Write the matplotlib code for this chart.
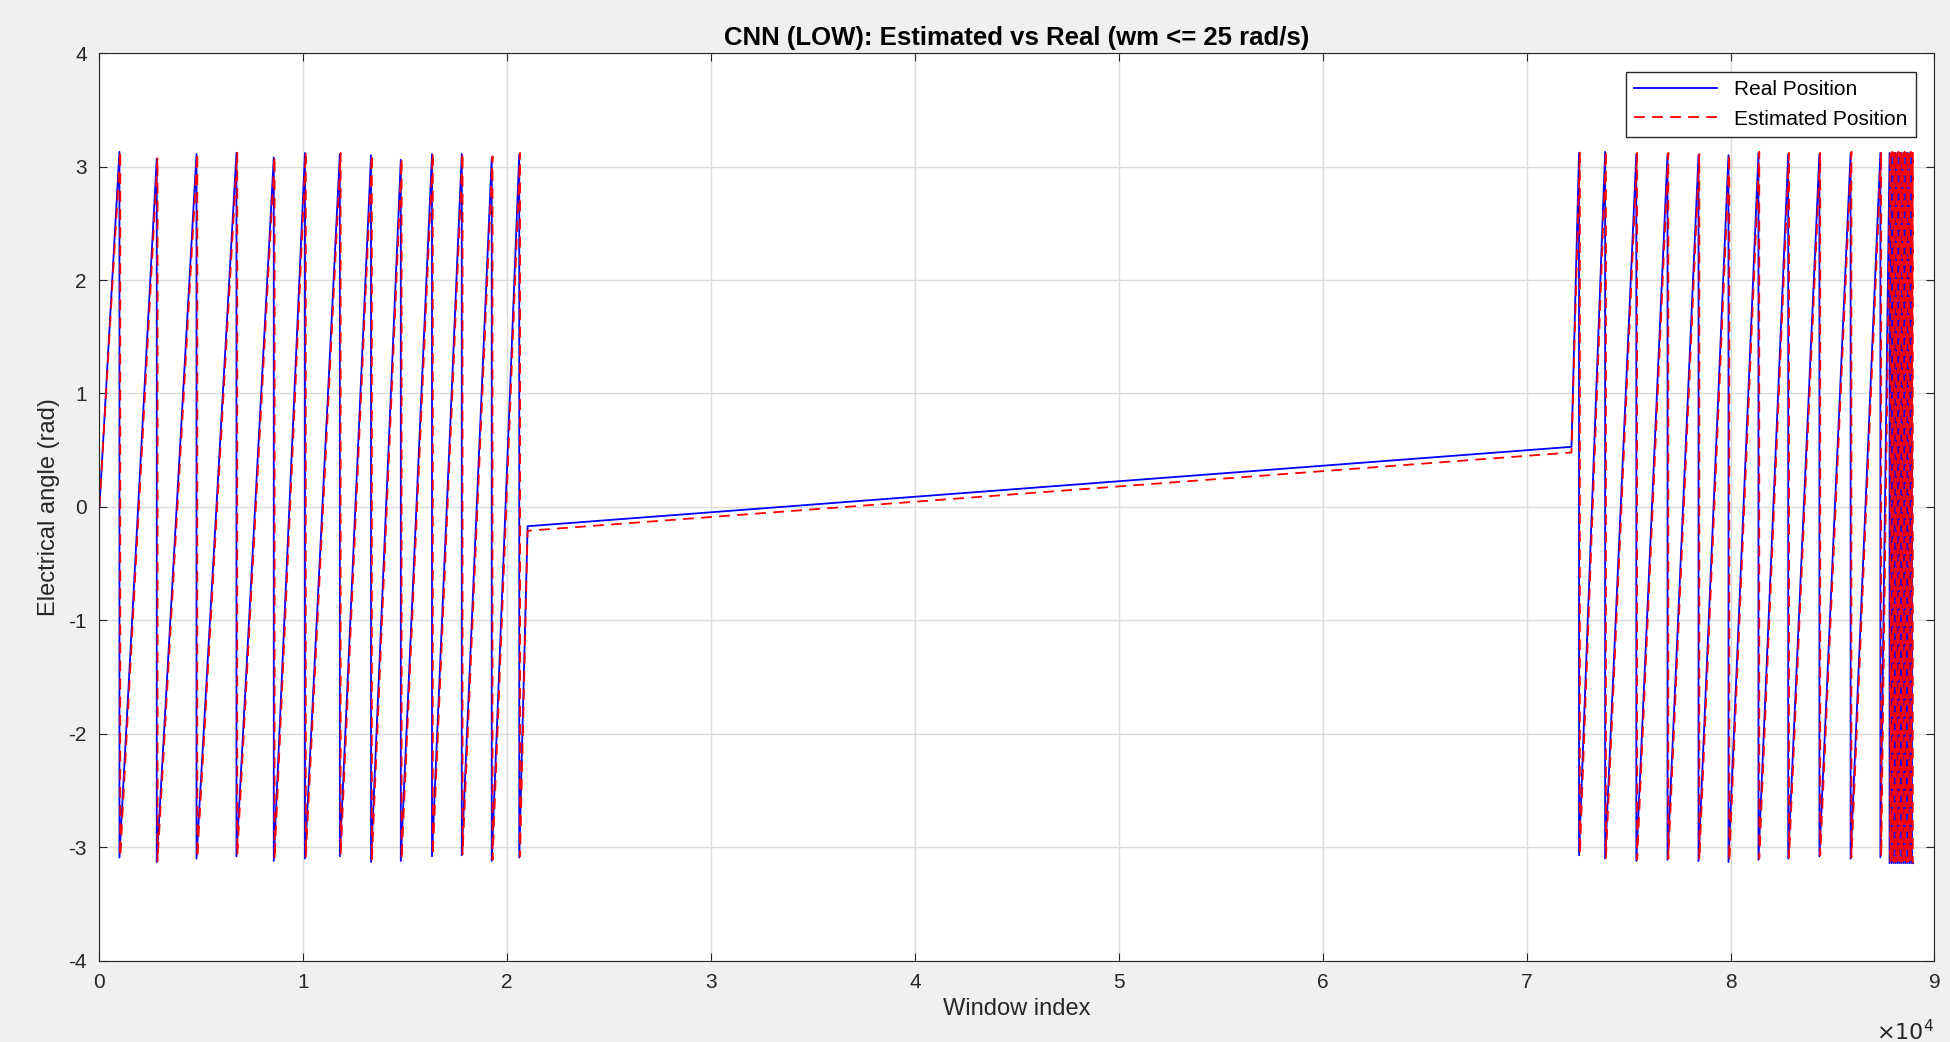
import matplotlib.pyplot as plt

# wrap positions (window index) where the angle jumps from +pi to -pi
wraps_left = [980, 2810, 4760, 6720, 8550, 10080, 11790, 13320, 14780, 16310, 17770, 19240, 20590]
peaks_left = [3.13, 3.07, 3.11, 3.12, 3.08, 3.12, 3.11, 3.10, 3.06, 3.11, 3.11, 3.08, 3.11]
troughs_left = [-3.09, -3.13, -3.10, -3.08, -3.12, -3.10, -3.08, -3.13, -3.12, -3.08, -3.07, -3.12, -3.09]

# slow segment in the middle
slow_x = [21000, 72200]
slow_real = [-0.17, 0.53]
slow_est = [-0.21, 0.48]

wraps_right = [72570, 73850, 75380, 76910, 78430, 79900, 81370, 82830, 84360, 85890, 87350,
               87800, 87900, 88000, 88100, 88200, 88300, 88400, 88500, 88600, 88700, 88800, 88900]
peaks_right = [3.12, 3.13, 3.11, 3.11, 3.10, 3.10, 3.12, 3.11, 3.11, 3.12, 3.12,
               3.12, 3.12, 3.12, 3.12, 3.12, 3.12, 3.12, 3.12, 3.12, 3.12, 3.12, 3.12]
troughs_right = [-3.07, -3.10, -3.12, -3.11, -3.12, -3.13, -3.11, -3.10, -3.08, -3.10, -3.09,
                 -3.14, -3.14, -3.14, -3.14, -3.14, -3.14, -3.14, -3.14, -3.14, -3.14, -3.14, -3.14]
END_X = 88950


def build(shift, dy, slow_y):
    xs, ys = [0], [0]
    for w, p, t in zip(wraps_left, peaks_left, troughs_left):
        xs += [w + shift, w + shift]
        ys += [p + dy, t + dy]
    xs += slow_x
    ys += slow_y
    for w, p, t in zip(wraps_right, peaks_right, troughs_right):
        xs += [w + shift, w + shift]
        ys += [p + dy, t + dy]
    xs.append(END_X)
    ys.append(-3.14)
    return xs, ys


xr, yr = build(0, 0.0, slow_real)
xe, ye = build(40, 0.01, slow_est)

plt.rcParams['font.family'] = ['Liberation Sans', 'DejaVu Sans']
plt.rcParams['axes.unicode_minus'] = False
fig = plt.figure(figsize=(19.5, 10.42), dpi=100, facecolor='#f0f0f0')
ax = fig.add_axes([0.051, 0.078, 0.941, 0.871])
ax.plot(xr, yr, color='#0000ff', lw=1.3, label='Real Position')
ax.plot(xe, ye, color='#ff0000', lw=1.3, ls=(0, (6, 4)), label='Estimated Position')

ax.set_xlim(0, 90000)
ax.set_ylim(-4, 4)
ax.set_xticks(range(0, 90001, 10000))
ax.set_xticklabels([str(i) for i in range(10)])
ax.set_yticks(range(-4, 5))
ax.grid(True, color='#dcdcdc', lw=1)
ax.tick_params(direction='in', length=6, labelsize=15, colors='#262626', top=True, right=True,
               labeltop=False, labelright=False, pad=9)
for s in ax.spines.values():
    s.set_color('#262626')
ax.text(1.0, -0.065, r'$\times10^4$', transform=ax.transAxes, ha='right', va='top',
        fontsize=16, color='#262626')
ax.set_xlabel('Window index', fontsize=17, color='#262626', labelpad=4)
ax.set_ylabel('Electrical angle (rad)', fontsize=17, color='#262626', labelpad=6)
ax.set_title('CNN (LOW): Estimated vs Real (wm <= 25 rad/s)', fontsize=18.5, fontweight='bold',
             color='#000000', pad=6)
leg = ax.legend(loc='upper right', fontsize=15, fancybox=False, edgecolor='#262626',
                handlelength=4, borderaxespad=0.9, framealpha=1)
leg.get_frame().set_linewidth(1)
fig.savefig('out.png', dpi=100, facecolor=fig.get_facecolor())
